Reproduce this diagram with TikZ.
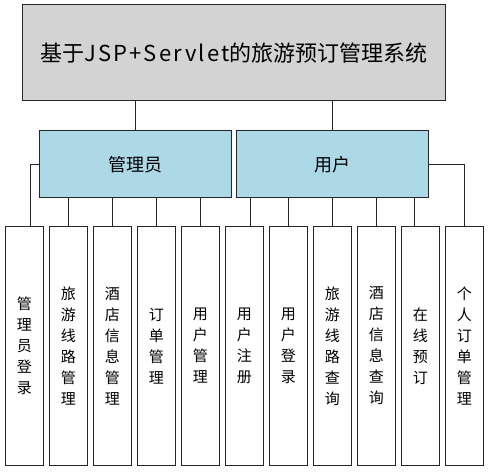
\documentclass[tikz,border=0pt]{standalone}
\usepackage{fontspec}
\setmainfont{Noto Sans CJK SC}
\definecolor{sysgray}{RGB}{211,211,211}
\definecolor{roleblue}{RGB}{173,216,230}
\begin{document}
\begin{tikzpicture}[x=1pt,y=-1pt,
  box/.style={draw=black!85, line width=1pt, inner sep=0pt},
  role/.style={box, fill=roleblue, minimum width=192.3pt, minimum height=67pt, font=\fontsize{18}{22}\selectfont},
  module/.style={box, fill=white, minimum width=38.7pt, minimum height=238.3pt, align=center, font=\fontsize{15}{21}\selectfont},
  link/.style={draw=black!85, line width=1pt}]
  \useasboundingbox (0,0) rectangle (489,473);
  % Title and roles
  \node[box, fill=sysgray, minimum width=422.3pt, minimum height=96.3pt, font=\fontsize{22}{26}\selectfont] (sys) at (233.85,52.85)
    {基于{\addfontfeatures{LetterSpace=10}JSP+Servlet}的旅游预订管理系统};
  \node[role] (mgr) at (135.15,164.2) {管理员};
  \node[role] (usr) at (332.3,164.2) {用户};
  % Modules
  \foreach \txt [count=\i] in {{管\\理\\员\\登\\录}, {旅\\游\\线\\路\\管\\理}, {酒\\店\\信\\息\\管\\理},
      {订\\单\\管\\理}, {用\\户\\管\\理}, {用\\户\\注\\册}, {用\\户\\登\\录}, {旅\\游\\线\\路\\查\\询},
      {酒\\店\\信\\息\\查\\询}, {在\\线\\预\\订}, {个\\人\\订\\单\\管\\理}}
    \node[module] (m\i) at ({24.35+44*(\i-1)},345.85) {\txt};
  % Links
  \draw[link] (sys.south -| mgr.north) -- (mgr.north);
  \draw[link] (sys.south -| usr.north) -- (usr.north);
  \draw[link] (mgr.west) -| ([xshift=6.6pt]m1.north);
  \foreach \i in {2,...,5}
    \draw[link] (m\i.north) -- (m\i.north |- mgr.south);
  \draw[link] ([xshift=5.7pt]m6.north) -- ([xshift=5.7pt]m6.north |- usr.south);
  \foreach \i in {7,8,9}
    \draw[link] (m\i.north) -- (m\i.north |- usr.south);
  \draw[link] ([xshift=-5.6pt]m10.north) -- ([xshift=-5.6pt]m10.north |- usr.south);
  \draw[link] (usr.east) -| (m11.north);
\end{tikzpicture}
\end{document}
